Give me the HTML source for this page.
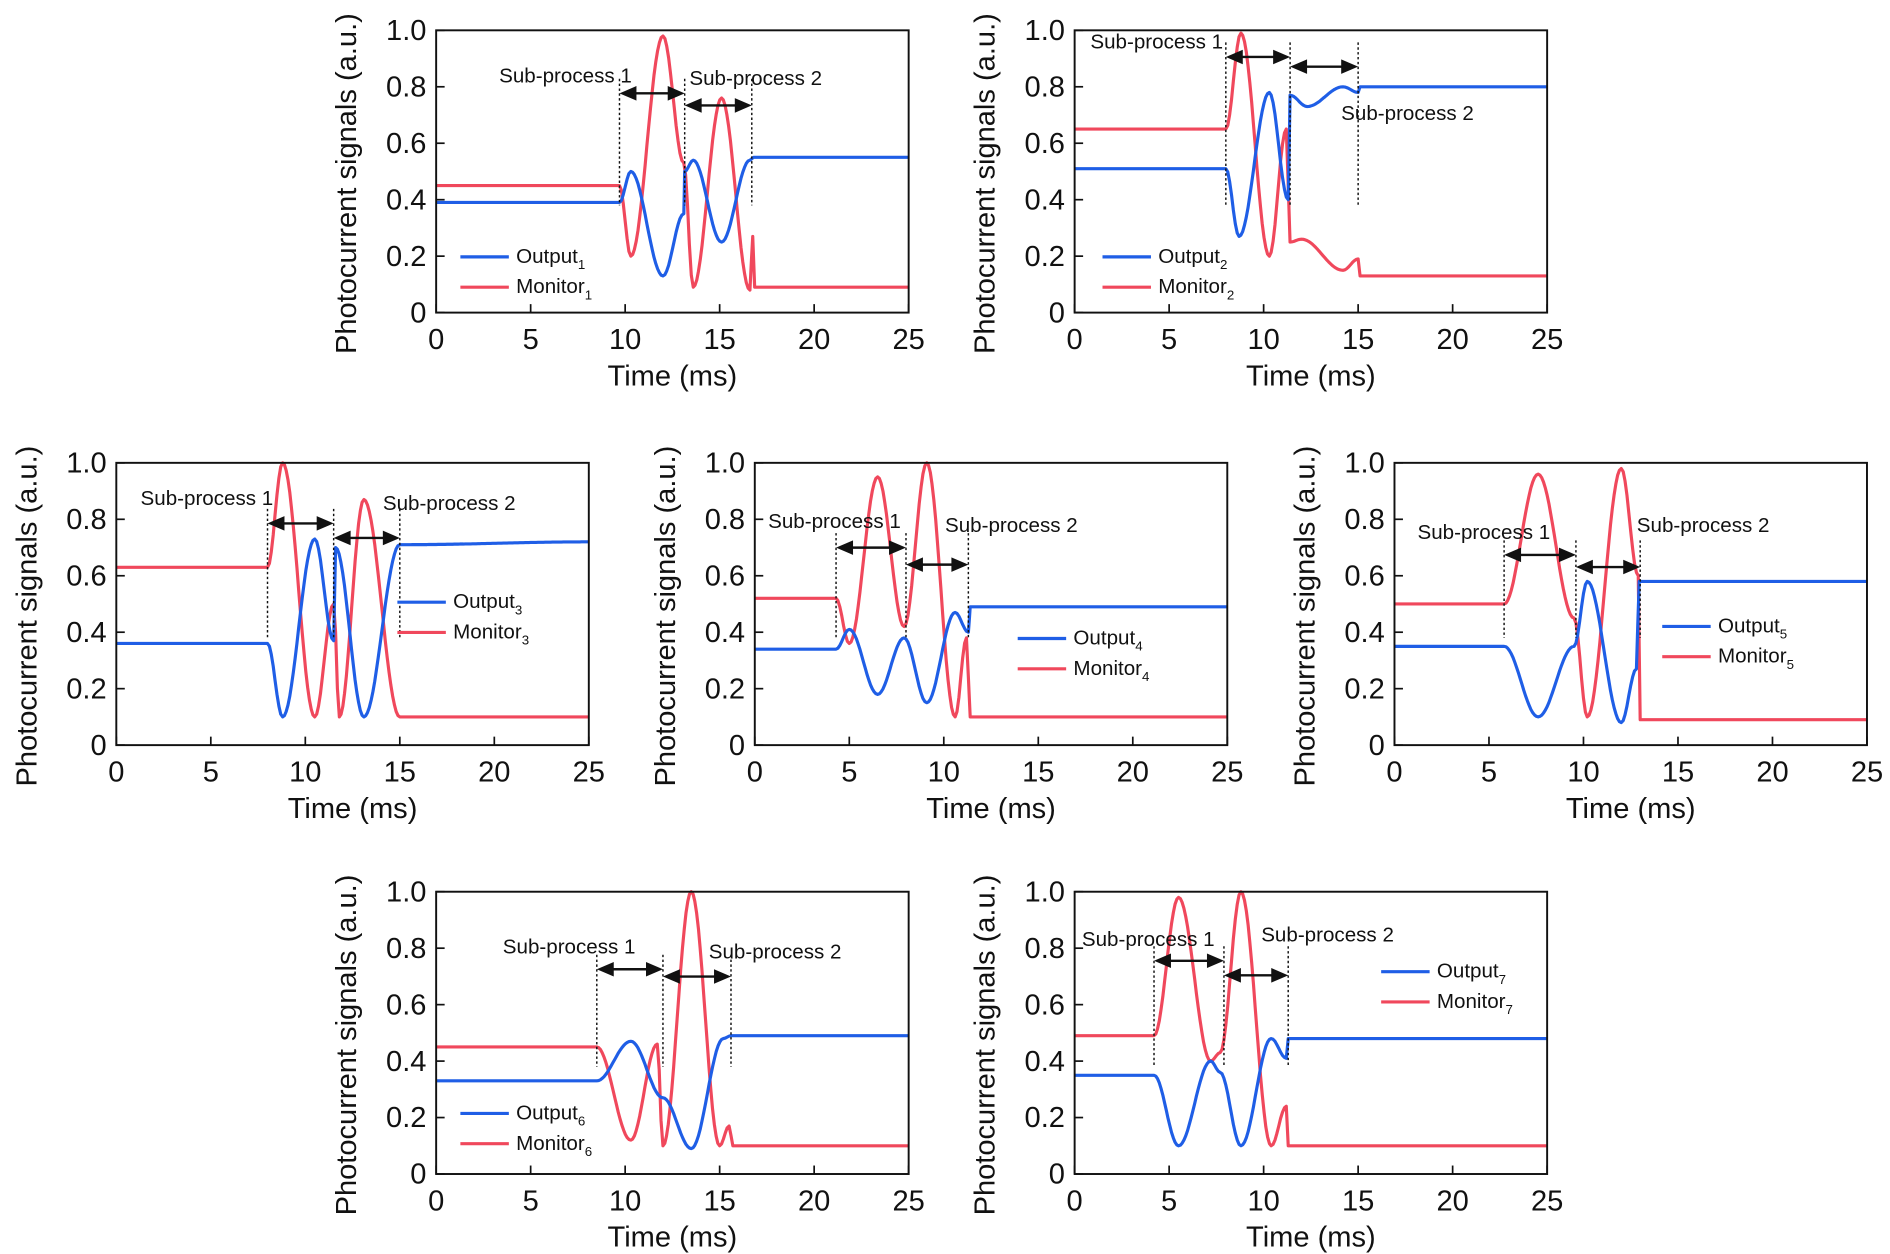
<!DOCTYPE html>
<html><head><meta charset="utf-8"><style>
html,body{margin:0;padding:0;background:#fff}
svg{display:block}
text{font-family:"Liberation Sans",sans-serif;fill:#111}
</style></head><body>
<svg id="fig" width="1890" height="1254" viewBox="0 0 1560 1035" xmlns="http://www.w3.org/2000/svg"></svg>
<script>
// ---- data (time in ms, signal in a.u.) ----
const xTicks = [0,5,10,15,20,25];
const yTicks = [0,0.2,0.4,0.6,0.8,1.0];
const yTickLabels = ["0","0.2","0.4","0.6","0.8","1.0"];

const p1OutT = [0,9.7,10.3,12.0,13.1,13.15,13.6,15.1,16.6,16.8,25];
const p1OutV = [0.39,0.39,0.5,0.13,0.35,0.5,0.54,0.25,0.54,0.55,0.55];
const p1MonT = [0,9.7,10.3,12.0,13.1,13.6,15.1,16.6,16.75,16.85,25];
const p1MonV = [0.45,0.45,0.2,0.98,0.53,0.09,0.76,0.08,0.27,0.09,0.09];
const p1Marks = [9.7,13.15,16.7];

const p2OutT = [0,8.0,8.7,10.3,11.3,11.4,12.3,14.2,15.0,15.1,25];
const p2OutV = [0.51,0.51,0.27,0.78,0.4,0.77,0.73,0.8,0.78,0.8,0.8];
const p2MonT = [0,8.0,8.8,10.3,11.2,11.4,12.0,14.2,15.0,15.1,25];
const p2MonV = [0.65,0.65,0.99,0.2,0.65,0.25,0.26,0.15,0.19,0.13,0.13];
const p2Marks = [8.0,11.4,15.0];

const p3OutT = [0,8.0,8.8,10.5,11.5,11.6,13.1,15.0,25];
const p3OutV = [0.36,0.36,0.1,0.73,0.37,0.7,0.1,0.71,0.72];
const p3MonT = [0,8.0,8.8,10.5,11.5,11.8,13.1,15.0,25];
const p3MonV = [0.63,0.63,1.0,0.1,0.5,0.1,0.87,0.1,0.1];
const p3Marks = [8.0,11.5,15.0];

const p4OutT = [0,4.3,5.0,6.5,7.9,9.1,10.6,11.3,11.4,25];
const p4OutV = [0.34,0.34,0.41,0.18,0.38,0.15,0.47,0.4,0.49,0.49];
const p4MonT = [0,4.3,5.0,6.5,7.9,9.1,10.6,11.2,11.4,25];
const p4MonV = [0.52,0.52,0.36,0.95,0.42,1.0,0.1,0.38,0.1,0.1];
const p4Marks = [4.3,8.0,11.3];

const p5OutT = [0,5.8,7.6,9.5,10.2,12.0,12.8,12.95,25];
const p5OutV = [0.35,0.35,0.1,0.35,0.58,0.08,0.27,0.58,0.58];
const p5MonT = [0,5.8,7.6,9.5,10.2,12.0,12.9,13.0,25];
const p5MonV = [0.5,0.5,0.96,0.45,0.1,0.98,0.6,0.09,0.09];
const p5Marks = [5.8,9.6,13.0];

const p6OutT = [0,8.5,10.3,12.0,13.5,15.2,15.6,25];
const p6OutV = [0.33,0.33,0.47,0.27,0.09,0.48,0.49,0.49];
const p6MonT = [0,8.5,10.3,11.7,12.0,13.5,15.0,15.5,15.7,25];
const p6MonV = [0.45,0.45,0.12,0.46,0.1,1.0,0.1,0.17,0.1,0.1];
const p6Marks = [8.5,12.0,15.6];

const p7OutT = [0,4.2,5.5,7.2,7.7,8.8,10.4,11.2,11.3,25];
const p7OutV = [0.35,0.35,0.1,0.4,0.36,0.1,0.48,0.41,0.48,0.48];
const p7MonT = [0,4.2,5.5,7.2,7.7,8.8,10.4,11.2,11.3,25];
const p7MonV = [0.49,0.49,0.98,0.4,0.43,1.0,0.1,0.24,0.1,0.1];
const p7Marks = [4.2,7.9,11.3];

const NS = "http://www.w3.org/2000/svg";
const svg = document.getElementById('fig');
function mk(tag, attrs, parent){const e=document.createElementNS(NS,tag);for(const k in attrs)e.setAttribute(k,attrs[k]);(parent||svg).appendChild(e);return e;}

const panels = [
 {id:1,x0:360,y0:25,oT:p1OutT,oV:p1OutV,mT:p1MonT,mV:p1MonV,marks:p1Marks,arr:[77,87],s1:[412,68],s2:[569,70],leg:[380,212]},
 {id:2,x0:887,y0:25,oT:p2OutT,oV:p2OutV,mT:p2MonT,mV:p2MonV,marks:p2Marks,arr:[47,55],s1:[900,40],s2:[1107,99],leg:[910,212]},
 {id:3,x0:96,y0:382,oT:p3OutT,oV:p3OutV,mT:p3MonT,mV:p3MonV,marks:p3Marks,arr:[432,444],s1:[116,417],s2:[316,421],leg:[328,497]},
 {id:4,x0:623,y0:382,oT:p4OutT,oV:p4OutV,mT:p4MonT,mV:p4MonV,marks:p4Marks,arr:[452,466],s1:[634,436],s2:[780,439],leg:[840,527]},
 {id:5,x0:1151,y0:382,oT:p5OutT,oV:p5OutV,mT:p5MonT,mV:p5MonV,marks:p5Marks,arr:[458,468],s1:[1170,445],s2:[1351,439],leg:[1372,517]},
 {id:6,x0:360,y0:736,oT:p6OutT,oV:p6OutV,mT:p6MonT,mV:p6MonV,marks:p6Marks,arr:[800,806],s1:[415,787],s2:[585,791],leg:[380,919]},
 {id:7,x0:887,y0:736,oT:p7OutT,oV:p7OutV,mT:p7MonT,mV:p7MonV,marks:p7Marks,arr:[793,805],s1:[893,781],s2:[1041,777],leg:[1140,802]}
];
const W=390, H=233;
const BLUE="#1f5ee6", RED="#f0485c";

function curvePath(T,V,sx,sy){
  let d="M"+sx(T[0]).toFixed(1)+","+sy(V[0]).toFixed(1);
  for(let i=1;i<T.length;i++){
    const n=Math.max(2,Math.round((sx(T[i])-sx(T[i-1]))/1.5));
    for(let k=1;k<=n;k++){
      const f=k/n, c=(1-Math.cos(Math.PI*f))/2;
      const t=T[i-1]+(T[i]-T[i-1])*f, v=V[i-1]+(V[i]-V[i-1])*c;
      d+=" L"+sx(t).toFixed(1)+","+sy(v).toFixed(1);
    }
  }
  return d;
}

panels.forEach(p=>{
  const g=mk('g',{});
  
  
  const sx=t=>p.x0+t/25*W, sy=v=>p.y0+H-v*H;
  const mon=mk('path',{d:curvePath(p.mT,p.mV,sx,sy),fill:'none',stroke:RED,'stroke-width':2.6,'stroke-linejoin':'round'},g);
  
  
  const out=mk('path',{d:curvePath(p.oT,p.oV,sx,sy),fill:'none',stroke:BLUE,'stroke-width':2.6,'stroke-linejoin':'round'},g);
  
  
  const fr=mk('rect',{x:p.x0,y:p.y0,width:W,height:H,fill:'none',stroke:'#111','stroke-width':1.6},g);
  
  
  xTicks.forEach(t=>{
    mk('line',{x1:sx(t),x2:sx(t),y1:p.y0+H,y2:p.y0+H-7,stroke:'#111','stroke-width':1.4},g);
    const tx=mk('text',{x:sx(t),y:p.y0+H+30,'text-anchor':'middle','font-size':24},g);
    tx.textContent=t;
    
    
  });
  yTicks.forEach((v,i)=>{
    mk('line',{x1:p.x0,x2:p.x0+7,y1:sy(v),y2:sy(v),stroke:'#111','stroke-width':1.4},g);
    const ty=mk('text',{x:p.x0-8,y:sy(v)+8,'text-anchor':'end','font-size':24},g);
    ty.textContent=yTickLabels[i];
    
    
  });
  const xt=mk('text',{x:p.x0+W/2,y:p.y0+H+60,'text-anchor':'middle','font-size':24},g);
  xt.textContent='Time (ms)';
  
  
  const cy=p.y0+H/2+10, cx=p.x0-66;
  const yt=mk('text',{x:cx,y:cy,'text-anchor':'middle','font-size':24,transform:'rotate(-90 '+cx+' '+cy+')'},g);
  yt.textContent='Photocurrent signals (a.u.)';
  
  
  const m=p.marks;
  m.forEach(t=>{
    const l=mk('line',{x1:sx(t),x2:sx(t),y1:Math.min(p.arr[0],p.arr[1])-12,y2:p.y0+H*0.62,stroke:'#111','stroke-width':1.2,'stroke-dasharray':'2,2'},g);
    
    
  });
  [[m[0],m[1],p.arr[0]],[m[1],m[2],p.arr[1]]].forEach(a=>{
    const x1=sx(a[0]),x2=sx(a[1]),y=a[2];
    const ar=mk('g',{},g);
    
    
    mk('line',{x1:x1+10,x2:x2-10,y1:y,y2:y,stroke:'#111','stroke-width':2},ar);
    mk('polygon',{points:`${x1},${y} ${x1+14},${y-6} ${x1+14},${y+6}`,fill:'#111'},ar);
    mk('polygon',{points:`${x2},${y} ${x2-14},${y-6} ${x2-14},${y+6}`,fill:'#111'},ar);
  });
  const s1=mk('text',{x:p.s1[0],y:p.s1[1],'font-size':17},g);
  s1.textContent='Sub-process 1';
  
  
  const s2=mk('text',{x:p.s2[0],y:p.s2[1],'font-size':17},g);
  s2.textContent='Sub-process 2';
  
  
  const lg=mk('g',{},g);
  
  
  const lx=p.leg[0], ly=p.leg[1];
  [[BLUE,'Output',0],[RED,'Monitor',25]].forEach(e=>{
    const le=mk('g',{},lg);
    
    
    mk('line',{x1:lx,x2:lx+40,y1:ly+e[2],y2:ly+e[2],stroke:e[0],'stroke-width':2.6},le);
    const t=mk('text',{x:lx+46,y:ly+e[2]+5,'font-size':17},le);
    t.textContent=e[1];
    const sub=mk('tspan',{'font-size':11,dy:5},t);
    sub.textContent=p.id;
  });
});
</script>
</body></html>
